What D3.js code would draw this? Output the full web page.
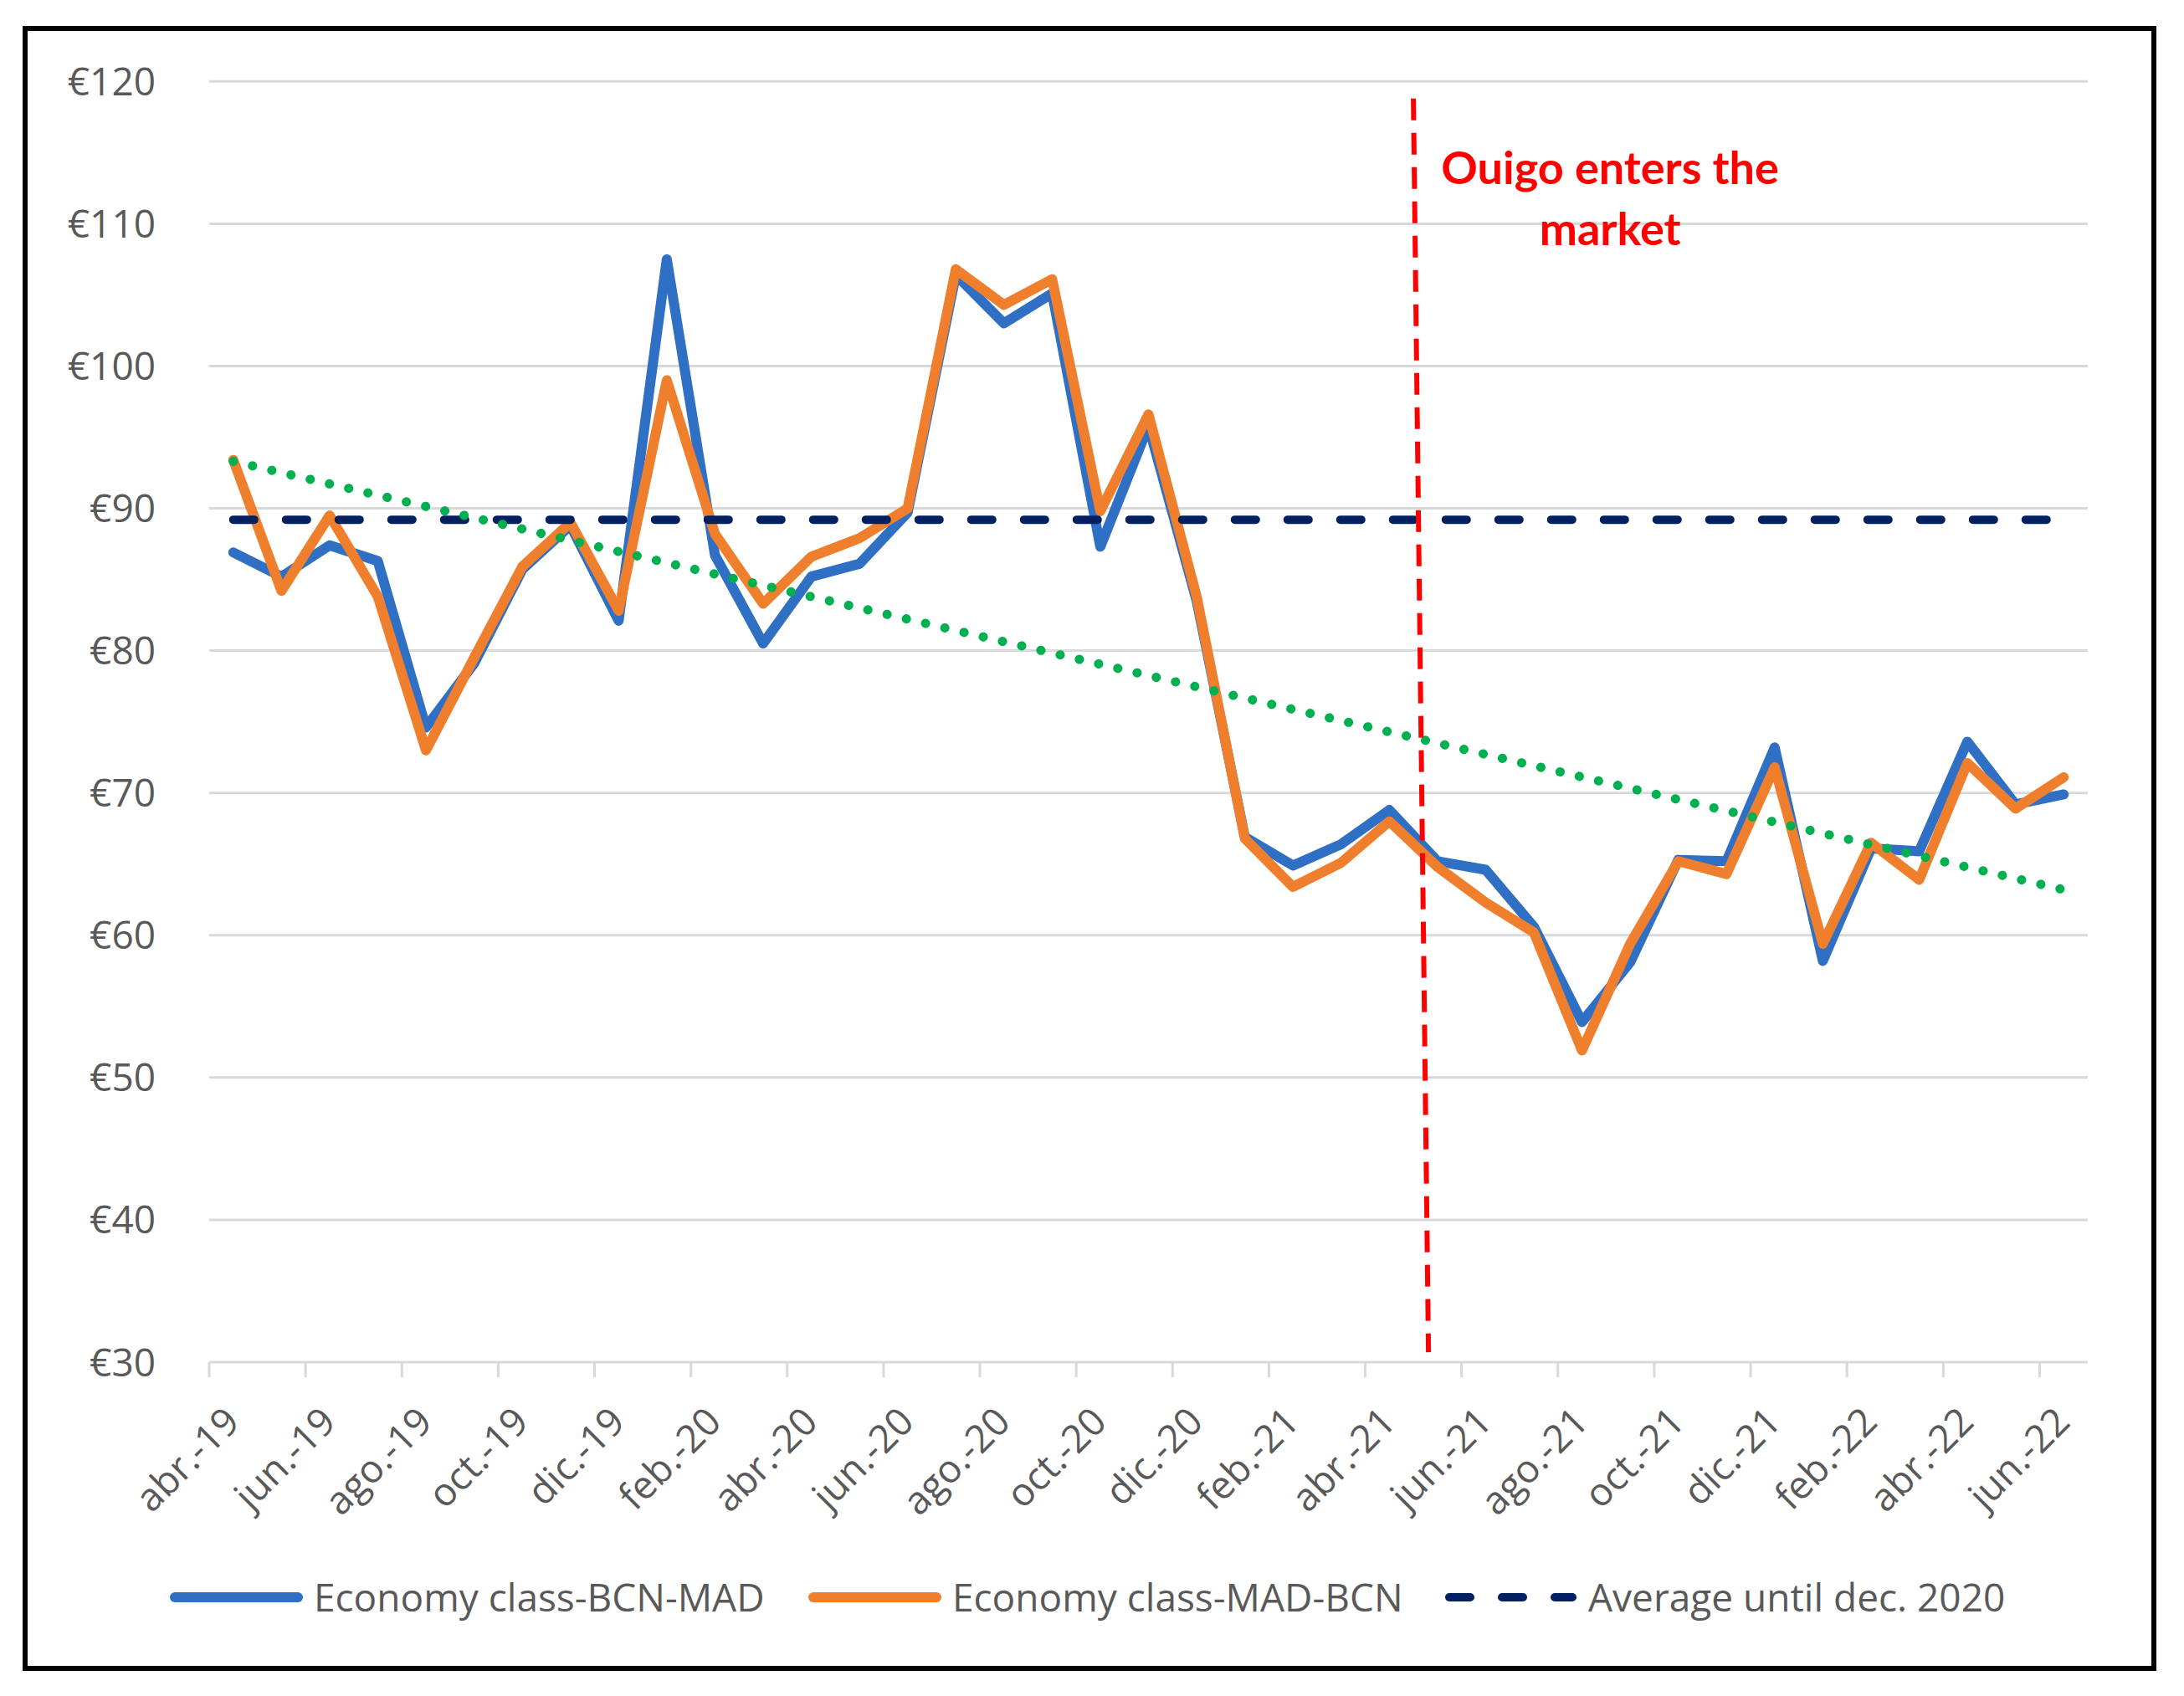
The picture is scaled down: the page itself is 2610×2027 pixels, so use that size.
<!DOCTYPE html>
<html>
<head>
<meta charset="utf-8">
<script src="https://cdn.jsdelivr.net/npm/d3@7"></script>
<style>
  body { margin: 0; background: #fff; }
  text { font-family: "Open Sans", sans-serif; }
</style>
</head>
<body>
<div id="chart"></div>
<script>
// monthly average economy fares (euros)
const months = ["abr.-19","may.-19","jun.-19","jul.-19","ago.-19","sep.-19","oct.-19","nov.-19","dic.-19",
  "ene.-20","feb.-20","mar.-20","abr.-20","may.-20","jun.-20","jul.-20","ago.-20","sep.-20","oct.-20","nov.-20","dic.-20",
  "ene.-21","feb.-21","mar.-21","abr.-21","may.-21","jun.-21","jul.-21","ago.-21","sep.-21","oct.-21","nov.-21","dic.-21",
  "ene.-22","feb.-22","mar.-22","abr.-22","may.-22","jun.-22"];

const bcnMad = [86.9,85.2,87.4,86.3,74.6,79.1,85.7,88.8,82.1,107.5,86.7,80.5,85.2,86.1,89.7,106.4,103.0,105.1,87.3,95.8,83.5,
  66.9,64.9,66.4,68.8,65.2,64.6,60.6,53.9,58.1,65.3,65.2,73.2,58.2,66.1,65.9,73.6,69.2,69.9];

const madBcn = [93.4,84.2,89.5,83.8,73.0,79.5,85.9,89.0,82.8,99.0,88.2,83.3,86.6,87.9,90.0,106.8,104.3,106.1,89.8,96.6,83.8,
  66.8,63.4,65.1,68.0,64.8,62.3,60.2,51.9,59.4,65.2,64.3,71.8,59.4,66.5,63.9,72.1,68.9,71.1];

const averageUntilDec2020 = 89.2;
const trendEnds = [93.3, 63.2];          // linear trend, first and last month
const yTicks = [30,40,50,60,70,80,90,100,110,120];
const ouigoMonth = "may.-21";
const ouigoSpan = [118.8, 30.7];         // vertical extent of the marker, in euros
const ouigoLabel = ["Ouigo enters the", "market"];
const legendItems = ["Economy class-BCN-MAD", "Economy class-MAD-BCN", "Average until dec. 2020"];

const W = 2610, H = 2027;
const blue = "#2F70C5", orange = "#F07F2D", navy = "#002060", green = "#00B050", grey = "#595959";

const svg = d3.select("#chart").append("svg")
    .attr("width", W).attr("height", H);

svg.append("rect").attr("width", W).attr("height", H).attr("fill", "#fff");

// frame
svg.append("rect")
    .attr("x", 30).attr("y", 34).attr("width", 2544).attr("height", 1960)
    .attr("fill", "none").attr("stroke", "#000").attr("stroke-width", 6);

const x = d3.scaleBand().domain(months).range([250, 2495]).padding(0);
const y = d3.scaleLinear().domain([30, 120]).range([1628, 97.3]);
const cx = m => x(m) + x.bandwidth() / 2;

// gridlines
svg.append("g").selectAll("line").data(yTicks).join("line")
    .attr("x1", 250).attr("x2", 2495)
    .attr("y1", d => y(d)).attr("y2", d => y(d))
    .attr("stroke", "#d9d9d9").attr("stroke-width", 3);

// y labels
svg.append("g").selectAll("text").data(yTicks).join("text")
    .attr("x", 186).attr("y", d => y(d)).attr("dy", "0.36em")
    .attr("text-anchor", "end").attr("font-size", 46).attr("fill", grey)
    .text(d => "€" + d);

// x ticks and labels, every second month
const shown = months.filter((m, i) => i % 2 === 0);
svg.append("g").selectAll("line").data(shown).join("line")
    .attr("x1", d => x(d)).attr("x2", d => x(d))
    .attr("y1", y(30)).attr("y2", y(30) + 18)
    .attr("stroke", "#d9d9d9").attr("stroke-width", 3);

svg.append("g").selectAll("text").data(shown).join("text")
    .attr("transform", d => `translate(${cx(d) + 10},${y(30) + 74}) rotate(-45)`)
    .attr("text-anchor", "end").attr("font-size", 46).attr("fill", grey)
    .text(d => d);

const line = d3.line().x((d, i) => cx(months[i])).y(d => y(d));

svg.append("path").datum(bcnMad).attr("d", line)
    .attr("fill", "none").attr("stroke", blue).attr("stroke-width", 12)
    .attr("stroke-linejoin", "round").attr("stroke-linecap", "round");

svg.append("path").datum(madBcn).attr("d", line)
    .attr("fill", "none").attr("stroke", orange).attr("stroke-width", 12)
    .attr("stroke-linejoin", "round").attr("stroke-linecap", "round");

// average line
svg.append("line")
    .attr("x1", cx(months[0])).attr("x2", cx(months[months.length - 1]))
    .attr("y1", y(averageUntilDec2020)).attr("y2", y(averageUntilDec2020))
    .attr("stroke", navy).attr("stroke-width", 10)
    .attr("stroke-dasharray", "25 38").attr("stroke-linecap", "round");

// trend
svg.append("line")
    .attr("x1", cx(months[0])).attr("x2", cx(months[months.length - 1]))
    .attr("y1", y(trendEnds[0])).attr("y2", y(trendEnds[1]))
    .attr("stroke", green).attr("stroke-width", 11)
    .attr("stroke-dasharray", "0.1 23.5").attr("stroke-linecap", "round");

// Ouigo marker
const ox = x(ouigoMonth);
svg.append("line")
    .attr("x1", ox).attr("y1", y(ouigoSpan[0]))
    .attr("x2", ox + 18).attr("y2", y(ouigoSpan[1]))
    .attr("stroke", "#FF0000").attr("stroke-width", 6)
    .attr("stroke-dasharray", "26 15");

svg.append("g").selectAll("text").data(ouigoLabel).join("text")
    .attr("x", ox + 235).attr("y", (d, i) => 220 + i * 73)
    .attr("text-anchor", "middle")
    .style("font-family", "Lato, sans-serif").attr("font-weight", "bold")
    .attr("font-size", 54).attr("fill", "#FF0000")
    .text(d => d);

// legend
const legendX = [203, 966, 1726];
const legend = svg.append("g").selectAll("g").data(legendItems).join("g")
    .attr("transform", (d, i) => `translate(${legendX[i]},1909)`);

legend.append("line")
    .attr("x1", 6).attr("x2", 153)
    .attr("stroke", (d, i) => [blue, orange, navy][i])
    .attr("stroke-width", (d, i) => i < 2 ? 12 : 10)
    .attr("stroke-linecap", "round")
    .attr("stroke-dasharray", (d, i) => i < 2 ? null : "25 38");

legend.append("text")
    .attr("x", 172).attr("dy", "0.36em")
    .attr("font-size", 46).attr("fill", grey)
    .text(d => d);
</script>
</body>
</html>
